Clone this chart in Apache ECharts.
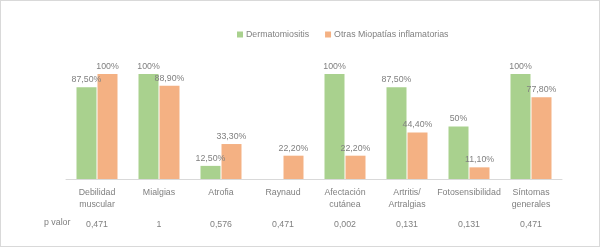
<!DOCTYPE html>
<html><head><meta charset="utf-8">
<script src="https://cdn.jsdelivr.net/npm/echarts@6/dist/echarts.min.js"></script>
<style>html,body{margin:0;padding:0;background:#fff}#c{width:600px;height:247px;box-sizing:border-box;border:1px solid #d9d9d9}</style>
</head><body><div id="c"></div>
<script>
const categories = ["Debilidad\nmuscular","Mialgias","Atrofia","Raynaud","Afectación\ncutánea","Artritis/\nArtralgias","Fotosensibilidad","Síntomas\ngenerales"];
const dermatomiositis = [87.5,100,12.5,0,100,87.5,50,100];
const otras = [100,88.9,33.3,22.2,22.2,44.4,11.1,77.8];
const pValores = ["0,471","1","0,576","0,471","0,002","0,131","0,131","0,471"];
const seriesNames = ["Dermatomiositis","Otras Miopatías inflamatorias"];

const font = "Liberation Sans";
const grey = "#808080";
const fs = 8.8;
function fmt(p){ const v=p.value; if(!v) return ""; return (Number.isInteger(v)? String(v) : v.toFixed(2).replace(".",",")) + "%"; }
const chart = echarts.init(document.getElementById('c'), null, {renderer:'canvas'});
chart.setOption({
  animation:false,
  textStyle:{fontFamily:font},
  legend:{top:24,left:231,itemWidth:6,itemHeight:6,itemGap:16,icon:'rect',
    textStyle:{fontSize:fs,color:grey,fontFamily:font,padding:[0,0,0,-2]}},
  grid:{left:65,right:37,top:73,bottom:67,containLabel:false},
  xAxis:[{type:'category',data:categories,
    axisLine:{lineStyle:{color:'#d9d9d9'}},axisTick:{show:false},
    axisLabel:{color:grey,fontSize:fs,lineHeight:12,margin:8,interval:0,fontFamily:font}},
   {type:'category',data:pValores,position:'bottom',offset:38,
    axisLine:{show:false},axisTick:{show:false},
    axisLabel:{color:grey,fontSize:fs,margin:3,interval:0,fontFamily:font}}],
  yAxis:{type:'value',min:0,max:100,show:false},
  series:[
   {name:seriesNames[0],type:'bar',data:dermatomiositis,barWidth:20,barGap:'5%',
    itemStyle:{color:'#a9d18e'},
    label:{show:true,position:'top',distance:3,formatter:fmt,color:grey,fontSize:fs,fontFamily:font}},
   {name:seriesNames[1],type:'bar',data:otras,barWidth:20,
    itemStyle:{color:'#f4b183'},
    label:{show:true,position:'top',distance:3,formatter:fmt,color:grey,fontSize:fs,fontFamily:font}}
  ],
  graphic:[{type:'text',left:43,top:217,style:{text:'p valor',fill:grey,fontSize:fs,fontFamily:font}}]
});
</script></body></html>
